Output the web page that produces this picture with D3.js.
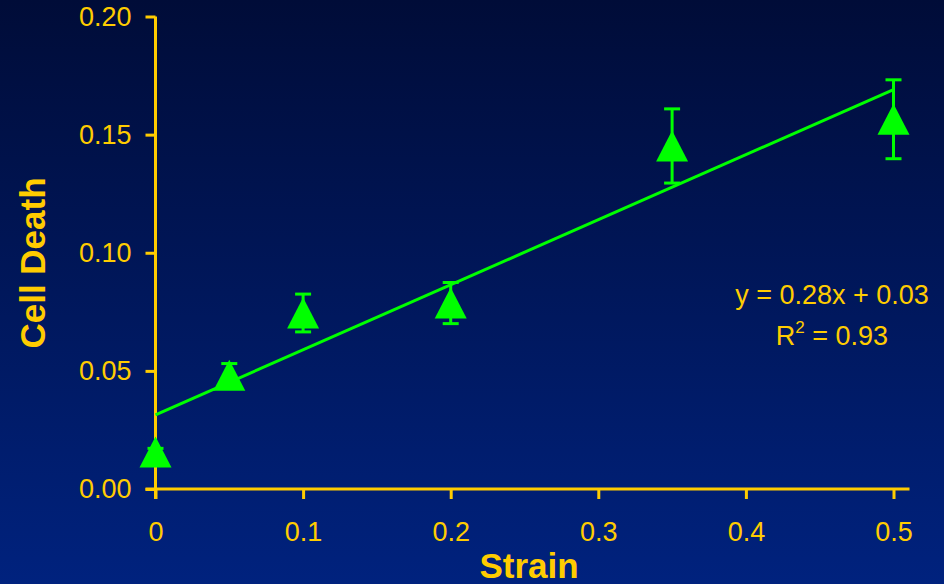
<!DOCTYPE html>
<html>
<head>
<meta charset="utf-8">
<script src="https://cdn.jsdelivr.net/npm/d3@7"></script>
<style>
  html, body { margin: 0; padding: 0; background: #001040; }
  svg { display: block; }
  text { font-family: "Liberation Sans", Arial, sans-serif; fill: #FFCC00; }
</style>
</head>
<body>
<svg id="chart" width="944" height="584"></svg>
<script>
// Measured cell death against applied strain (mean ± error)
const strain    = [0, 0.05, 0.1, 0.2, 0.35, 0.5];
const cellDeath = [0.0157, 0.0481, 0.0745, 0.0787, 0.1452, 0.1565];
const errors    = [0.0015, 0.005, 0.008, 0.0087, 0.0157, 0.0167];
const xTicks = [0, 0.1, 0.2, 0.3, 0.4, 0.5];
const yTicks = [0, 0.05, 0.10, 0.15, 0.20];

const gold = "#FFCC00", green = "#00FF00";
const svg = d3.select("#chart");

// Background gradient: dark navy at the top, brighter blue toward the bottom
const defs = svg.append("defs");
const grad = defs.append("linearGradient").attr("id", "bg")
  .attr("x1", 0).attr("y1", 0).attr("x2", 0).attr("y2", 1);
grad.append("stop").attr("offset", "0%").attr("stop-color", "#000c38");
grad.append("stop").attr("offset", "100%").attr("stop-color", "#00227e");
svg.append("rect").attr("width", 944).attr("height", 584).attr("fill", "url(#bg)");

const x = d3.scaleLinear().domain([0, 0.5]).range([155.5, 893.5]);
const y = d3.scaleLinear().domain([0, 0.2]).range([489, 16.5]);
const tickLen = 10;

// Axes
const yAxis = svg.append("g").attr("transform", `translate(${x(0)},0)`)
  .call(d3.axisLeft(y).tickValues(yTicks).tickFormat(d3.format(".2f"))
    .tickSizeInner(tickLen).tickSizeOuter(0).tickPadding(14));
const xAxis = svg.append("g").attr("transform", `translate(0,${y(0)})`)
  .call(d3.axisBottom(x).tickValues(xTicks).tickFormat(d => d === 0 ? "0" : d3.format(".1f")(d))
    .tickSizeInner(tickLen).tickSizeOuter(0).tickPadding(23));
[yAxis, xAxis].forEach(g => {
  g.select(".domain").remove();
  g.selectAll(".tick line").attr("stroke", gold).attr("stroke-width", 3);
  g.selectAll(".tick text").attr("fill", gold).style("font-size", "27px")
    .style("font-family", "'Liberation Sans', Arial, sans-serif");
});
// Axis lines (y axis runs down through the x-axis tick zone; x axis extends past 0.5)
svg.append("line").attr("x1", x(0)).attr("x2", x(0))
  .attr("y1", y(0.2)).attr("y2", y(0) + tickLen)
  .attr("stroke", gold).attr("stroke-width", 3);
svg.append("line").attr("x1", x(0) - tickLen).attr("x2", x(0.5) + 16)
  .attr("y1", y(0)).attr("y2", y(0))
  .attr("stroke", gold).attr("stroke-width", 3);

// Least-squares trend line
const n = strain.length;
const mx = d3.mean(strain), my = d3.mean(cellDeath);
let sxy = 0, sxx = 0, syy = 0;
for (let i = 0; i < n; i++) {
  sxy += (strain[i] - mx) * (cellDeath[i] - my);
  sxx += (strain[i] - mx) ** 2;
  syy += (cellDeath[i] - my) ** 2;
}
const slope = sxy / sxx, intercept = my - slope * mx;
const r2 = (sxy * sxy) / (sxx * syy);
const xr = d3.extent(strain);
svg.append("line")
  .attr("x1", x(xr[0])).attr("y1", y(intercept + slope * xr[0]))
  .attr("x2", x(xr[1])).attr("y2", y(intercept + slope * xr[1]))
  .attr("stroke", green).attr("stroke-width", 3);

// Error bars
const data = strain.map((s, i) => ({ x: s, y: cellDeath[i], e: errors[i] }));
const capW = 8;
const eb = svg.append("g").attr("stroke", green).attr("stroke-width", 3);
data.forEach(d => {
  eb.append("line").attr("x1", x(d.x)).attr("x2", x(d.x))
    .attr("y1", y(d.y + d.e)).attr("y2", y(d.y - d.e));
  [d.y + d.e, d.y - d.e].forEach(v => {
    eb.append("line").attr("x1", x(d.x) - capW).attr("x2", x(d.x) + capW)
      .attr("y1", y(v)).attr("y2", y(v));
  });
});

// Triangle markers, centred on each point
const mw = 32, mh = 31;
svg.append("g").selectAll("path").data(data).join("path")
  .attr("d", d => {
    const cx = x(d.x), cy = y(d.y);
    return `M${cx},${cy - mh / 2}L${cx + mw / 2},${cy + mh / 2}L${cx - mw / 2},${cy + mh / 2}Z`;
  })
  .attr("fill", green);

// Regression equation and R²
const f2 = d3.format(".2f");
svg.append("text").attr("x", 832).attr("y", 304).attr("text-anchor", "middle")
  .style("font-size", "27px")
  .text(`y = ${f2(slope)}x + ${f2(intercept)}`);
const r2t = svg.append("text").attr("x", 832).attr("y", 345).attr("text-anchor", "middle")
  .style("font-size", "27px");
r2t.append("tspan").text("R");
r2t.append("tspan").attr("dy", -12).style("font-size", "17px").text("2");
r2t.append("tspan").attr("dy", 12).text(` = ${f2(r2)}`);

// Axis titles
svg.append("text").attr("x", 529).attr("y", 578).attr("text-anchor", "middle")
  .style("font-size", "35px").style("font-weight", "bold").text("Strain");
svg.append("text").attr("transform", "translate(45,263) rotate(-90)")
  .attr("text-anchor", "middle")
  .style("font-size", "35px").style("font-weight", "bold").text("Cell Death");
</script>
</body>
</html>
